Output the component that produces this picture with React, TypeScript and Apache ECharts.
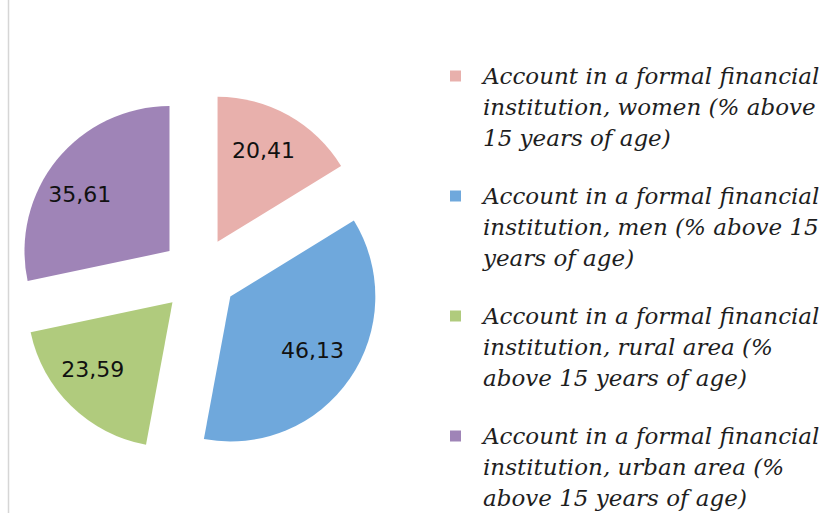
import React, { useEffect, useRef } from "react";
import * as echarts from "echarts";

const categories = [
  "Account in a formal financial institution, women (% above 15 years of age)",
  "Account in a formal financial institution, men (% above 15 years of age)",
  "Account in a formal financial institution, rural area (% above 15 years of age)",
  "Account in a formal financial institution, urban area (% above 15 years of age)",
];
const values = [20.41, 46.13, 23.59, 35.61];
const colors = ["#E8B0AC", "#6FA8DC", "#B0CB7D", "#9F84B7"];
// label nudges (Excel hand-placed labels)
const labelShift: [number, number][] = [
  [9, -25],
  [20, 11],
  [-27, 13],
  [-31, -9],
];

const LEGEND_FONT = "italic 23px 'DejaVu Serif'";
const LEGEND_WIDTH = 345;

function wrapWords(text: string, font: string, maxW: number): string {
  const ctx = document.createElement("canvas").getContext("2d")!;
  ctx.font = font;
  const words = text.split(" ");
  const lines: string[] = [];
  let cur = "";
  for (const w of words) {
    const trial = cur ? cur + " " + w : w;
    if (cur && ctx.measureText(trial).width > maxW) {
      lines.push(cur);
      cur = w;
    } else {
      cur = trial;
    }
  }
  if (cur) lines.push(cur);
  return lines.join("\n");
}

export default function App() {
  const ref = useRef<HTMLDivElement>(null);
  useEffect(() => {
    document.body.style.margin = "0";
    const chart = echarts.init(ref.current!, null, { renderer: "svg" });
    const lineH = 31;
    const legendStep = 120;
    const firstIconCenter = 76;
    chart.setOption({
      animation: false,
      backgroundColor: "#ffffff",
      color: colors,
      graphic: [
        {
          type: "line",
          shape: { x1: 8.5, y1: 0, x2: 8.5, y2: 513 },
          style: { stroke: "#d6d6d6", lineWidth: 1.5 },
          silent: true,
        },
      ],
      legend: categories.map((name, i) => ({
        orient: "vertical",
        left: 450,
        top: firstIconCenter + i * legendStep - 2.5 * lineH,
        padding: 0,
        itemWidth: 11,
        itemHeight: 11,
        icon: "rect",
        selectedMode: false,
        data: [name],
        formatter: (n: string) => "\n\n" + wrapWords(n, LEGEND_FONT, LEGEND_WIDTH),
        textStyle: {
          fontFamily: "DejaVu Serif",
          fontStyle: "italic",
          fontSize: 23,
          lineHeight: lineH,
          color: "#1e1e1e",
          padding: [0, 0, 0, 17],
        },
      })),
      series: [
        {
          type: "pie",
          center: [199, 275],
          radius: 145,
          startAngle: 90,
          clockwise: true,
          selectedMode: "multiple",
          selectedOffset: 38,
          avoidLabelOverlap: false,
          emphasis: { disabled: true },
          itemStyle: { borderWidth: 0 },
          label: {
            show: true,
            position: "inside",
            fontFamily: "DejaVu Sans",
            fontSize: 22,
            color: "#111111",
            formatter: (p: any) => Number(p.value).toFixed(2).replace(".", ","),
          },
          labelLine: { show: false },
          labelLayout: (p: any) => ({
            dx: labelShift[p.dataIndex][0],
            dy: labelShift[p.dataIndex][1],
          }),
          data: categories.map((name, i) => ({
            name,
            value: values[i],
            selected: true,
          })),
        },
      ],
    });
    return () => chart.dispose();
  }, []);
  return <div ref={ref} style={{ width: 824, height: 513 }} />;
}
